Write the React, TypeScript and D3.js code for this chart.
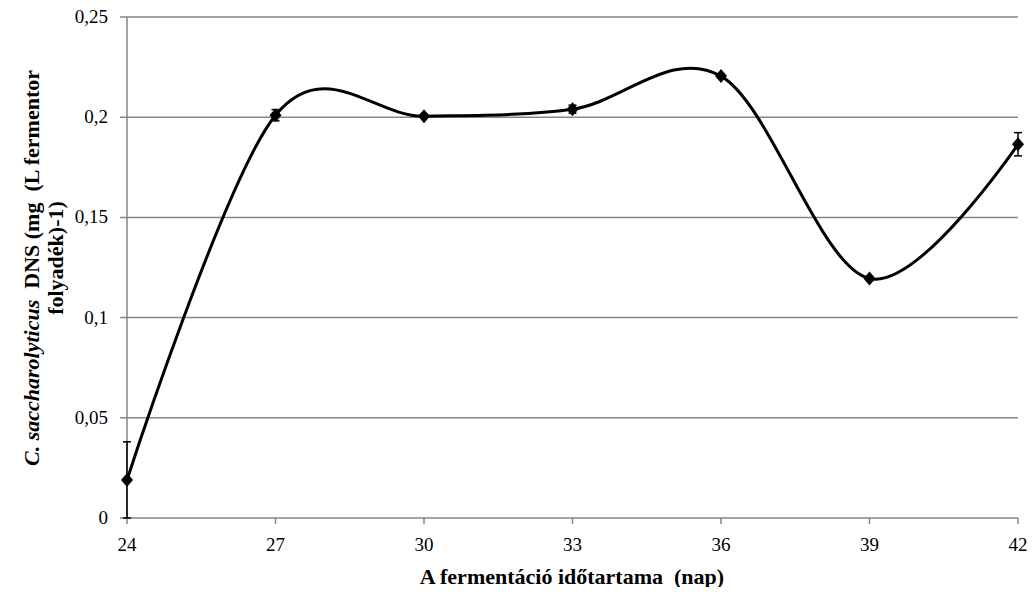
import React from "react";
import * as d3 from "d3";

const days = [24, 27, 30, 33, 36, 39, 42];
const dnsValues = [0.019, 0.201, 0.2005, 0.204, 0.2205, 0.1195, 0.1865];
const dnsErrors = [0.019, 0.0028, 0.001, 0.002, 0.001, 0.001, 0.0058];
const yTicks = [0, 0.05, 0.1, 0.15, 0.2, 0.25];
const yTickLabels = ["0", "0,05", "0,1", "0,15", "0,2", "0,25"];

const W = 1036;
const H = 595;
const left = 127;
const right = 1018;
const top = 17;
const bottom = 518;

export default function App() {
  const x = d3.scaleLinear().domain([24, 42]).range([left, right]);
  const y = d3.scaleLinear().domain([0, 0.25]).range([bottom, top]);
  const pts: [number, number][] = days.map((d, i) => [x(d), y(dnsValues[i])]);
  const line = d3.line().curve(d3.curveCardinal.tension(0))(pts) || "";
  const axisColor = "#868686";
  return (
    <div style={{ margin: -8 }}>
      <svg width={W} height={H} style={{ display: "block", background: "#fff" }}>
        {yTicks.map((t, i) => (
          <g key={t}>
            <line x1={left - 7} x2={right} y1={y(t)} y2={y(t)} stroke={axisColor} strokeWidth={1.5} />
            <text x={108} y={y(t) + 6} textAnchor="end" fontSize={19} fill="#000">
              {yTickLabels[i]}
            </text>
          </g>
        ))}
        <line x1={left} x2={left} y1={top} y2={bottom} stroke={axisColor} strokeWidth={1.5} />
        {days.map((d) => (
          <g key={d}>
            <line x1={x(d)} x2={x(d)} y1={bottom} y2={bottom + 6} stroke={axisColor} strokeWidth={1.5} />
            <text x={x(d)} y={bottom + 33} textAnchor="middle" fontSize={19} fill="#000">
              {d}
            </text>
          </g>
        ))}
        {days.map((d, i) => {
          const cx = x(d);
          const y1 = y(dnsValues[i] + dnsErrors[i]);
          const y0 = y(dnsValues[i] - dnsErrors[i]);
          return (
            <g key={"e" + d} stroke="#000" strokeWidth={1.5}>
              <line x1={cx} x2={cx} y1={y1} y2={y0} />
              <line x1={cx - 4} x2={cx + 4} y1={y1} y2={y1} />
              <line x1={cx - 4} x2={cx + 4} y1={y0} y2={y0} />
            </g>
          );
        })}
        <path d={line} fill="none" stroke="#000" strokeWidth={3} />
        {pts.map(([px, py], i) => (
          <path key={"m" + i} d={`M${px},${py - 7}L${px + 6},${py}L${px},${py + 7}L${px - 6},${py}Z`} fill="#000" />
        ))}
        <text
          x={572}
          y={584}
          textAnchor="middle"
          fontSize={22}
          fontWeight="bold"
          fill="#000"
          style={{ whiteSpace: "pre" }}
        >
          {"A fermentáció időtartama  (nap)"}
        </text>
        <g transform={`translate(39, 268) rotate(-90)`}>
          <text x={0} y={0} textAnchor="middle" fontSize={22} fontWeight="bold" fill="#000" style={{ whiteSpace: "pre" }}>
            <tspan fontStyle="italic">C. saccharolyticus</tspan>
            <tspan>{"  DNS (mg  (L fermentor"}</tspan>
          </text>
          <text x={10} y={24} textAnchor="middle" fontSize={22} fontWeight="bold" fill="#000">
            folyadék)-1)
          </text>
        </g>
      </svg>
    </div>
  );
}
